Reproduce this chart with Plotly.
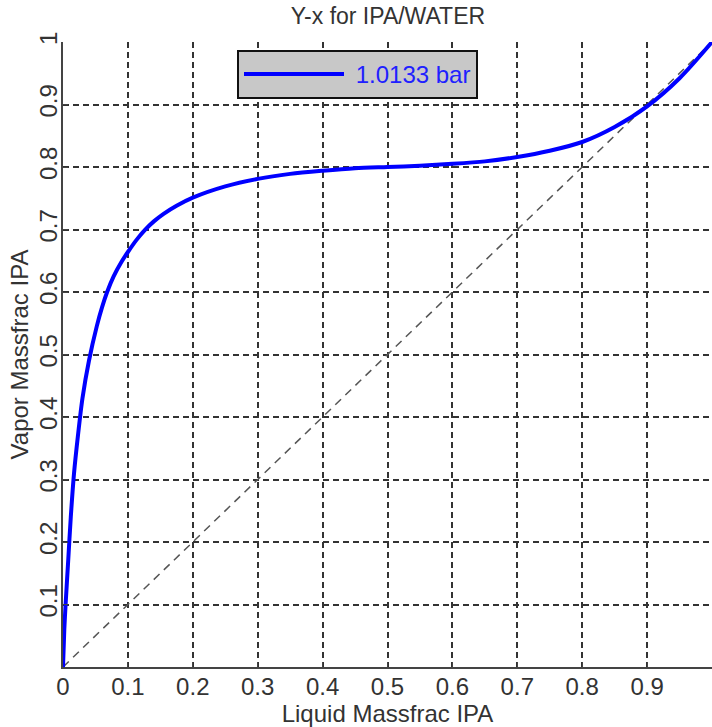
import plotly.graph_objects as go

# Liquid mass fraction IPA (x) and vapor mass fraction IPA (y) at 1.0133 bar
x_liquid = [0, 0.002, 0.004, 0.008, 0.012, 0.017, 0.023, 0.030, 0.040, 0.052,
            0.060, 0.068, 0.078, 0.090, 0.100, 0.113, 0.126, 0.140, 0.155, 0.175,
            0.2, 0.25, 0.3, 0.35, 0.4, 0.45, 0.5, 0.55, 0.6, 0.65, 0.7, 0.75,
            0.8, 0.85, 0.9, 0.95, 1.0]
y_vapor = [0, 0.06, 0.10, 0.17, 0.24, 0.31, 0.37, 0.43, 0.49, 0.545,
           0.575, 0.600, 0.625, 0.648, 0.664, 0.683, 0.699, 0.713, 0.725, 0.738,
           0.751, 0.769, 0.781, 0.789, 0.794, 0.798, 0.800, 0.802, 0.805, 0.809, 0.816, 0.826,
           0.840, 0.864, 0.897, 0.942, 1.0]

diag = [0, 1]
series_name = "1.0133 bar"
title_text = "Y-x for IPA/WATER"
x_title = "Liquid Massfrac IPA"
y_title = "Vapor Massfrac IPA"
x_ticks = [0, 0.1, 0.2, 0.3, 0.4, 0.5, 0.6, 0.7, 0.8, 0.9, 1.0]
y_ticks = [0.1, 0.2, 0.3, 0.4, 0.5, 0.6, 0.7, 0.8, 0.9, 1.0]

FONT = "Liberation Sans, Arial, Helvetica, sans-serif"
TXT = "#333333"

fig = go.Figure()
fig.add_trace(go.Scatter(
    x=diag, y=diag, mode="lines", showlegend=False,
    line=dict(color="#555555", width=1.5, dash="8px,6px"),
    hoverinfo="skip"))
fig.add_trace(go.Scatter(
    x=x_liquid, y=y_vapor, mode="lines", name="\u00a0" + series_name,
    line=dict(color="#0000ff", width=4, shape="spline", smoothing=0.8)))

axis_common = dict(
    range=[0, 1], showgrid=True, gridcolor="#333333", griddash="6px,4px", gridwidth=1.5,
    zeroline=False, showline=True, linecolor="#444444", linewidth=2,
    ticks="inside", ticklen=5, tickcolor="#444444", automargin=False,
    tickfont=dict(family=FONT, size=24, color=TXT),
)

fig.update_layout(
    width=712, height=727,
    margin=dict(l=63, r=0, t=42, b=60, autoexpand=False),
    paper_bgcolor="white", plot_bgcolor="white",
    font=dict(family=FONT, color=TXT),
    title=dict(text=title_text, x=(63 + 325) / 712, xanchor="center",
               y=1 - 16 / 727, yanchor="middle", yref="container",
               font=dict(family=FONT, size=23, color=TXT)),
    xaxis=dict(axis_common, tickvals=x_ticks, ticklabelstandoff=-3,
               title=dict(text=x_title, font=dict(family=FONT, size=24, color=TXT), standoff=4)),
    yaxis=dict(axis_common, tickvals=y_ticks, tickangle=-90, ticklabelstandoff=-6,
               title=dict(text=y_title, font=dict(family=FONT, size=24, color=TXT), standoff=0)),
    legend=dict(x=(237 - 63) / 649, y=(667 - 50) / 625, xanchor="left", yanchor="top",
                bgcolor="#c8c8c8", bordercolor="#111111", borderwidth=2,
                itemwidth=100,
                font=dict(family=FONT, size=24, color="#2020ff")),
    showlegend=True,
)

fig.write_html("out.html", config={"displayModeBar": False},
               post_script="document.body.style.margin='0';")
